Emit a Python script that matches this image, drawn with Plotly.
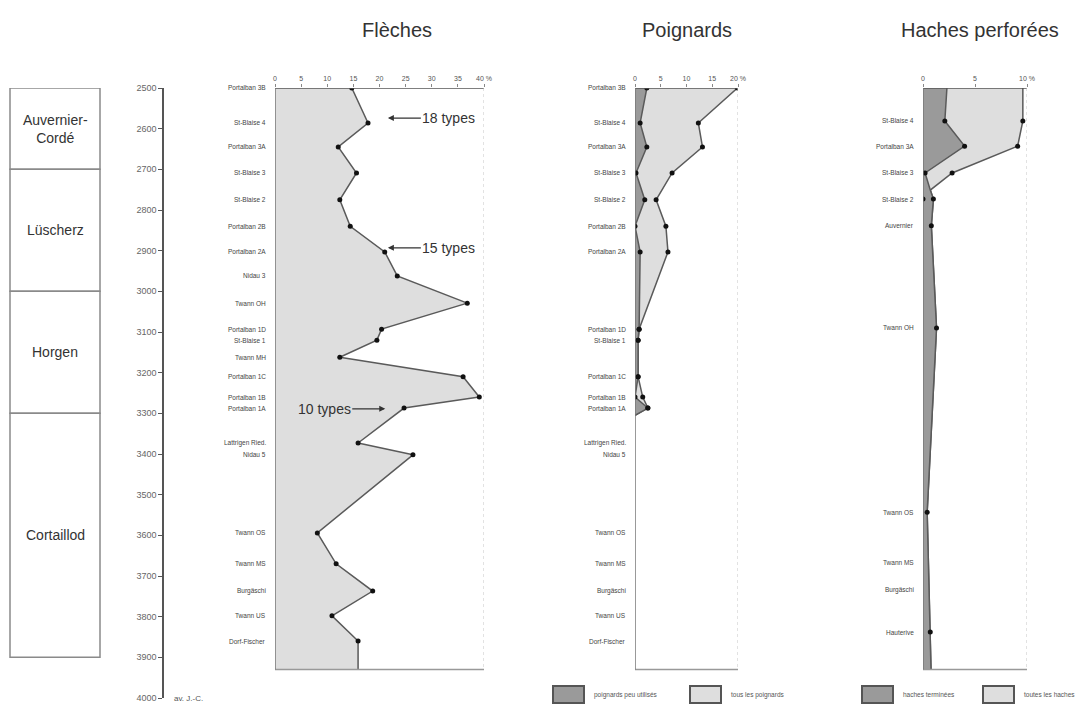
import plotly.graph_objects as go

# ---------------- data ----------------
cultures = ["Auvernier-<br>Cordé", "Lüscherz", "Horgen", "Cortaillod"]
culture_bounds = [2500, 2700, 3000, 3300, 3900]

year_ticks = [2500, 2600, 2700, 2800, 2900, 3000, 3100, 3200, 3300, 3400,
              3500, 3600, 3700, 3800, 3900, 4000]

# Flèches (% of arrow types)
fleche_sites = ["Portalban 3B", "St-Blaise 4", "Portalban 3A", "St-Blaise 3", "St-Blaise 2",
                "Portalban 2B", "Portalban 2A", "Nidau 3", "Twann OH", "Portalban 1D",
                "St-Blaise 1", "Twann MH", "Portalban 1C", "Portalban 1B", "Portalban 1A",
                "Lattrigen Ried.", "Nidau 5", "Twann OS", "Twann MS", "Burgäschi",
                "Twann US", "Dorf-Fischer"]
fleche_dates = [2500, 2586, 2645, 2709, 2775, 2840, 2903, 2962, 3029, 3093,
                3120, 3162, 3210, 3260, 3287, 3373, 3402, 3594, 3670, 3737, 3798, 3860]
fleche_pct = [14.7, 17.8, 12.1, 15.6, 12.4, 14.4, 21.0, 23.4, 36.8, 20.4,
              19.5, 12.4, 36.0, 39.1, 24.7, 15.9, 26.4, 8.1, 11.7, 18.7, 10.9, 15.9]
fleche_notes = ["18 types", "15 types", "10 types"]
fleche_note_dates = [2574, 2893, 3289]
fleche_note_pct = [21.6, 21.6, 21.1]

# Poignards
poign_sites = ["Portalban 3B", "St-Blaise 4", "Portalban 3A", "St-Blaise 3", "St-Blaise 2",
               "Portalban 2B", "Portalban 2A", "Portalban 1D", "St-Blaise 1",
               "Portalban 1C", "Portalban 1B", "Portalban 1A"]
poign_dates = [2500, 2586, 2645, 2709, 2775, 2840, 2903, 3093, 3120, 3210, 3260, 3287]
poign_total = [19.9, 12.3, 13.1, 7.2, 4.1, 6.0, 6.4, 0.8, 0.6, 0.6, 1.5, 2.5]
poign_worn = [2.3, 1.0, 2.3, 0.2, 1.9, 0.0, 1.0, 0.8, 0.6, 0.6, 0.0, 2.5]
poign_close_date = 3305
poign_label_sites = poign_sites + ["Lattrigen Ried.", "Nidau 5", "Twann OS", "Twann MS",
                                   "Burgäschi", "Twann US", "Dorf-Fischer"]

# Haches perforées
hache_dates = [2500, 2581, 2643, 2709, 2751, 2773, 2839, 3090, 3543, 3838]
hache_total = [9.6, 9.6, 9.1, 2.8, 0.7, 1.0, 0.8, 1.3, 0.4, 0.7]
hache_finished = [2.3, 2.1, 4.0, 0.2, 0.7, 1.0, 0.8, 1.3, 0.4, 0.7]
hache_total_dot = [False, True, True, True, False, True, True, True, True, True]
hache_finished_dot = [None, 2.1, 4.0, 0.2, None, 0.0, None, None, None, None]
hache_bottom_pct = 0.77
hache_label_sites = ["St-Blaise 4", "Portalban 3A", "St-Blaise 3", "St-Blaise 2", "Auvernier",
                     "Twann OH", "Twann OS", "Twann MS", "Burgäschi", "Hauterive"]
hache_label_dates = [2581, 2643, 2709, 2773, 2839, 3090, 3543, 3668, 3734, 3838]

# ---------------- layout constants ----------------
PAGE_OFFSET = 8            # default body margin of the page
W, H = 1087 - PAGE_OFFSET, 705 - PAGE_OFFSET
PANEL_TOP, PANEL_BOTTOM = 2500, 3930
FONT = "Liberation Sans, Arial, sans-serif"
LINE = "#5a5a5a"
LIGHT = "#dedede"
DARK = "#9a9a9a"


def px(x):
    return (x - PAGE_OFFSET) / W


def py(y):
    return 1 - (y - PAGE_OFFSET) / H


fig = go.Figure()

# ---- Flèches ----
fig.add_trace(go.Scatter(
    x=fleche_pct + [fleche_pct[-1]], y=fleche_dates + [PANEL_BOTTOM],
    mode="lines", fill="tozerox", fillcolor=LIGHT,
    line=dict(color=LINE, width=1.5), xaxis="x", yaxis="y", hoverinfo="skip"))
fig.add_trace(go.Scatter(
    x=fleche_pct, y=fleche_dates, mode="markers",
    marker=dict(color="#111", size=5), xaxis="x", yaxis="y"))

# ---- Poignards ----
fig.add_trace(go.Scatter(
    x=poign_total + [0], y=poign_dates + [poign_close_date],
    mode="lines", fill="tozerox", fillcolor=LIGHT,
    line=dict(color=LINE, width=1.5), xaxis="x2", yaxis="y", hoverinfo="skip"))
fig.add_trace(go.Scatter(
    x=poign_worn + [0], y=poign_dates + [poign_close_date],
    mode="lines", fill="tozerox", fillcolor=DARK,
    line=dict(color=LINE, width=1.5), xaxis="x2", yaxis="y", hoverinfo="skip"))
fig.add_trace(go.Scatter(
    x=poign_total + poign_worn, y=poign_dates + poign_dates, mode="markers",
    marker=dict(color="#111", size=5), xaxis="x2", yaxis="y"))

# ---- Haches ----
fig.add_trace(go.Scatter(
    x=hache_total + [hache_bottom_pct], y=hache_dates + [PANEL_BOTTOM],
    mode="lines", fill="tozerox", fillcolor=LIGHT,
    line=dict(color=LINE, width=1.5), xaxis="x3", yaxis="y", hoverinfo="skip"))
fig.add_trace(go.Scatter(
    x=hache_finished + [hache_bottom_pct], y=hache_dates + [PANEL_BOTTOM],
    mode="lines", fill="tozerox", fillcolor=DARK,
    line=dict(color=LINE, width=1.5), xaxis="x3", yaxis="y", hoverinfo="skip"))
fig.add_trace(go.Scatter(
    x=[v for v, d in zip(hache_total, hache_total_dot) if d],
    y=[t for t, d in zip(hache_dates, hache_total_dot) if d],
    mode="markers", marker=dict(color="#111", size=5), xaxis="x3", yaxis="y"))
fig.add_trace(go.Scatter(
    x=[v for v in hache_finished_dot if v is not None],
    y=[t for t, v in zip(hache_dates, hache_finished_dot) if v is not None],
    mode="markers", marker=dict(color="#111", size=5), xaxis="x3", yaxis="y"))

shapes = []
annotations = []

# panels: (axis, max, ticks, domain px, title, title center)
panels = [
    ("x", 40, [0, 5, 10, 15, 20, 25, 30, 35, 40], (275, 484), "Flèches", 397),
    ("x2", 20, [0, 5, 10, 15, 20], (635, 738), "Poignards", 687),
    ("x3", 10, [0, 5, 10], (923, 1027), "Haches perforées", 980),
]

axis_layout = {}
for i, (ax, mx, ticks, dom, title, tcx) in enumerate(panels):
    name = "xaxis" if ax == "x" else "xaxis" + ax[1:]
    ticktext = [str(t) for t in ticks]
    ticktext[-1] = ticktext[-1] + " %"
    axis_layout[name] = dict(
        domain=[px(dom[0]), px(dom[1])], range=[0, mx], anchor="y", side="top",
        tickvals=ticks, ticktext=ticktext, ticks="outside", ticklen=3,
        tickcolor="#888", tickfont=dict(size=7, color="#555", family=FONT),
        showgrid=False, zeroline=False, showline=False, fixedrange=True,
        automargin=False)
    # frame
    shapes += [
        dict(type="line", xref=ax, yref="y", x0=0, x1=mx, y0=PANEL_TOP, y1=PANEL_TOP,
             line=dict(color="#555", width=1.5)),
        dict(type="line", xref=ax, yref="y", x0=0, x1=mx, y0=PANEL_BOTTOM, y1=PANEL_BOTTOM,
             line=dict(color="#999", width=1.5)),
        dict(type="line", xref=ax, yref="y", x0=0, x1=0, y0=PANEL_TOP, y1=PANEL_BOTTOM,
             line=dict(color="#777", width=1.5)),
        dict(type="line", xref=ax, yref="y", x0=mx, x1=mx, y0=PANEL_TOP, y1=PANEL_BOTTOM,
             line=dict(color="#c4c4c4", width=1, dash="dot")),
    ]
    annotations.append(dict(
        text=title, xref="paper", yref="paper", x=px(tcx), y=py(30),
        xanchor="center", yanchor="middle", showarrow=False,
        font=dict(size=20, color="#333", family=FONT)))


def site_labels(names, dates, ax):
    for n, d in zip(names, dates):
        annotations.append(dict(
            text=n, xref=ax, yref="y", x=0, y=d, xshift=-7, xanchor="right",
            yanchor="middle", showarrow=False,
            font=dict(size=6.5, color="#444", family=FONT)))


date_of = dict(zip(fleche_sites, fleche_dates))
site_labels(fleche_sites, fleche_dates, "x")
site_labels(poign_label_sites, [date_of[s] for s in poign_label_sites], "x2")
site_labels(hache_label_sites, hache_label_dates, "x3")

# "n types" notes
for txt, d, p, off in zip(fleche_notes, fleche_note_dates, fleche_note_pct, [61, 61, -61]):
    annotations.append(dict(
        text=txt, xref="x", yref="y", x=p, y=d, ax=off, ay=0,
        showarrow=True, arrowhead=2, arrowsize=1, arrowwidth=1.2, arrowcolor="#333",
        font=dict(size=14, color="#333", family=FONT)))

# culture boxes
for i, c in enumerate(cultures):
    y0, y1 = culture_bounds[i], culture_bounds[i + 1]
    shapes.append(dict(type="rect", xref="paper", yref="y", x0=px(10), x1=px(100),
                       y0=y0, y1=y1, line=dict(color="#8a8a8a", width=1.5)))
    annotations.append(dict(
        text=c, xref="paper", yref="y", x=px(55), y=(y0 + y1) / 2, showarrow=False,
        xanchor="center", yanchor="middle",
        font=dict(size=14, color="#333", family=FONT)))

annotations.append(dict(
    text="av. J.-C.", xref="paper", yref="y", x=px(172), y=4000, xanchor="left",
    yanchor="middle", showarrow=False, font=dict(size=8, color="#555", family=FONT)))

# legends
legends = [
    (553, DARK, "poignards peu utilisés"),
    (690, LIGHT, "tous les poignards"),
    (862, DARK, "haches terminées"),
    (983, LIGHT, "toutes les haches"),
]
for x0, col, txt in legends:
    shapes.append(dict(type="rect", xref="paper", yref="paper", x0=px(x0), x1=px(x0 + 31),
                       y0=py(703), y1=py(686), fillcolor=col,
                       line=dict(color="#555", width=2)))
    annotations.append(dict(
        text=txt, xref="paper", yref="paper", x=px(x0 + 39), y=py(694.5),
        xanchor="left", yanchor="middle", showarrow=False,
        font=dict(size=6.5, color="#555", family=FONT)))

fig.update_layout(
    width=W, height=H, margin=dict(l=0, r=0, t=0, b=0, autoexpand=False),
    paper_bgcolor="white", plot_bgcolor="rgba(0,0,0,0)", showlegend=False,
    yaxis=dict(domain=[py(698), py(88)], range=[4000, 2500], anchor="free",
               position=px(163), side="left", tickvals=year_ticks,
               ticks="outside", ticklen=4, tickcolor="#555",
               showline=True, linecolor="#555", linewidth=1.5,
               tickfont=dict(size=9, color="#666", family=FONT),
               showgrid=False, zeroline=False, fixedrange=True, automargin=False),
    shapes=shapes, annotations=annotations,
    **axis_layout,
)

fig.write_html("out.html")
